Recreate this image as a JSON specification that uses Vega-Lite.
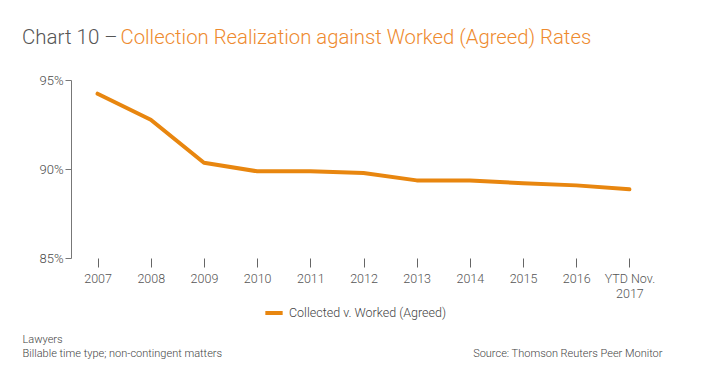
{
  "$schema": "https://vega.github.io/schema/vega-lite/v6.json",
  "background": "white",
  "padding": {"left": 22, "top": 27, "right": 5, "bottom": 2},
  "width": 585,
  "height": 178,
  "config": {
    "view": {"stroke": null},
    "font": "Roboto"
  },
  "title": {
    "text": "Chart 10 –",
    "anchor": "start",
    "frame": "bounds",
    "fontSize": 20.5,
    "fontWeight": 300,
    "color": "#555555",
    "offset": -21
  },
  "data": {
    "values": [
      {"year": "2007", "rate": 94.23, "series": "Collected v. Worked (Agreed)"},
      {"year": "2008", "rate": 92.77, "series": "Collected v. Worked (Agreed)"},
      {"year": "2009", "rate": 90.35, "series": "Collected v. Worked (Agreed)"},
      {"year": "2010", "rate": 89.87, "series": "Collected v. Worked (Agreed)"},
      {"year": "2011", "rate": 89.87, "series": "Collected v. Worked (Agreed)"},
      {"year": "2012", "rate": 89.77, "series": "Collected v. Worked (Agreed)"},
      {"year": "2013", "rate": 89.36, "series": "Collected v. Worked (Agreed)"},
      {"year": "2014", "rate": 89.36, "series": "Collected v. Worked (Agreed)"},
      {"year": "2015", "rate": 89.2, "series": "Collected v. Worked (Agreed)"},
      {"year": "2016", "rate": 89.08, "series": "Collected v. Worked (Agreed)"},
      {"year": "YTD Nov. 2017", "rate": 88.86, "series": "Collected v. Worked (Agreed)"}
    ]
  },
  "encoding": {
    "x": {
      "field": "year",
      "type": "ordinal",
      "sort": null,
      "scale": {"type": "point", "padding": 0.5},
      "axis": {
        "title": ["Lawyers", "Billable time type; non-contingent matters"],
        "titleX": -49,
        "titleY": 84,
        "titleAnchor": null,
        "titleAlign": "left",
        "titleBaseline": "alphabetic",
        "titleFontSize": 11,
        "titleFontWeight": 300,
        "titleColor": "#444444",
        "titleLineHeight": 14,
        "domain": false,
        "ticks": true,
        "tickSize": 9,
        "tickColor": "#666666",
        "labelAngle": 0,
        "labelFontSize": 12.5,
        "labelFontWeight": 300,
        "labelColor": "#555555",
        "labelPadding": 5,
        "labelLineHeight": 15,
        "labelExpr": "datum.value == 'YTD Nov. 2017' ? ['YTD Nov.', '2017'] : datum.value"
      }
    }
  },
  "layer": [
    {
      "mark": {"type": "line", "strokeWidth": 4, "strokeJoin": "round", "strokeCap": "round"},
      "encoding": {
        "y": {
          "field": "rate",
          "type": "quantitative",
          "scale": {"domain": [85, 95], "nice": false, "zero": false},
          "axis": {
            "title": "Collection Realization against Worked (Agreed) Rates",
            "titleAngle": 0,
            "titleX": 49,
            "titleY": -37,
            "titleAnchor": null,
            "titleAlign": "left",
            "titleBaseline": "alphabetic",
            "titleFontSize": 20.3,
            "titleFontWeight": 300,
            "titleColor": "#EE8A2E",
            "values": [85, 90, 95],
            "grid": false,
            "domainColor": "#777777",
            "tickColor": "#777777",
            "tickSize": 6,
            "labelFontSize": 13,
            "labelFontWeight": 300,
            "labelColor": "#4A4A4A",
            "labelPadding": 2,
            "labelExpr": "datum.value + '%'"
          }
        },
        "color": {
          "field": "series",
          "type": "nominal",
          "scale": {"range": ["#E8860F"]},
          "legend": {
            "title": null,
            "orient": "none",
            "legendX": 192,
            "legendY": 222,
            "direction": "horizontal",
            "symbolType": "stroke",
            "symbolStrokeWidth": 4,
            "symbolSize": 300,
            "labelFontSize": 12.5,
            "labelFontWeight": 300,
            "labelColor": "#444444"
          }
        }
      }
    },
    {
      "mark": {"type": "line", "opacity": 0},
      "encoding": {
        "y": {
          "field": "rate",
          "type": "quantitative",
          "scale": {"domain": [85, 95], "nice": false, "zero": false},
          "axis": {
            "orient": "right",
            "title": "Source: Thomson Reuters Peer Monitor",
            "titleAngle": 0,
            "titleX": 6,
            "titleY": 276,
            "titleAnchor": null,
            "titleAlign": "right",
            "titleBaseline": "alphabetic",
            "titleFontSize": 11,
            "titleFontWeight": 300,
            "titleColor": "#444444",
            "domain": false,
            "ticks": false,
            "labels": false,
            "grid": false
          }
        }
      }
    }
  ],
  "resolve": {"scale": {"y": "independent"}}
}
